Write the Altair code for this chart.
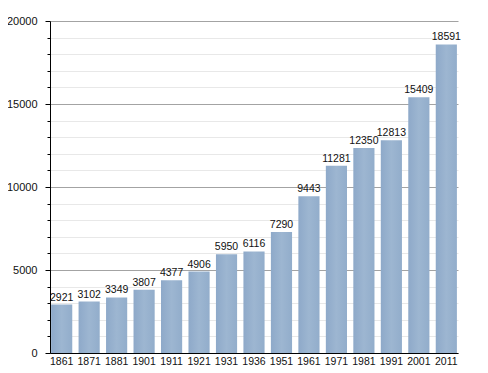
import altair as alt
import pandas as pd

years = ["1861", "1871", "1881", "1901", "1911", "1921", "1931", "1936",
         "1951", "1961", "1971", "1981", "1991", "2001", "2011"]
population = [2921, 3102, 3349, 3807, 4377, 4906, 5950, 6116,
              7290, 9443, 11281, 12350, 12813, 15409, 18591]
y_ticks = list(range(0, 20001, 1000))

df = pd.DataFrame({"year": years, "pop": population})

FONT = "Liberation Sans"

x = alt.X("year:N", sort=years, title=None,
          scale=alt.Scale(paddingInner=0.23, paddingOuter=0.04),
          axis=alt.Axis(labelAngle=0, ticks=False, labelPadding=3,
                        domainColor="#000", labelFontSize=10.5,
                        labelColor="#111", labelFont=FONT))
y = alt.Y("pop:Q", title=None,
          scale=alt.Scale(domain=[0, 20000], nice=False),
          axis=alt.Axis(values=y_ticks, labelOverlap=False,
                        labelExpr="datum.value % 5000 === 0 ? datum.label : ''",
                        format="d",
                        gridColor={"condition": {"test": "datum.value % 5000 === 0", "value": "#a3a3a3"}, "value": "#e8e8e8"},
                        tickSize={"condition": {"test": "datum.value % 5000 === 0", "value": 5}, "value": 3},
                        tickColor="#000", domainColor="#000",
                        labelPadding=8, labelFontSize=11, labelColor="#111",
                        labelFont=FONT))

grad = alt.Gradient(gradient="linear", x1=0, x2=1, y1=0, y2=0,
                    stops=[alt.GradientStop(color="#8ea9c9", offset=0),
                           alt.GradientStop(color="#9db6d1", offset=0.5),
                           alt.GradientStop(color="#92adcb", offset=1)])

bars = alt.Chart(df).mark_bar(color=grad).encode(x=x, y=y)
labels = alt.Chart(df).mark_text(baseline="alphabetic", dy=-4, fontSize=10.5,
                                 font=FONT, color="#111").encode(
    x=x, y=y, text="pop:Q")

chart = alt.layer(bars, labels).properties(
    width=408, height=332,
    autosize=alt.AutoSizeParams(type="none"),
    padding={"left": 42, "top": 13, "right": 12, "bottom": 18},
).configure_view(stroke=None).configure_axis(gridWidth=1)

chart.save("out.html", embed_options={"renderer": "svg", "actions": False})
